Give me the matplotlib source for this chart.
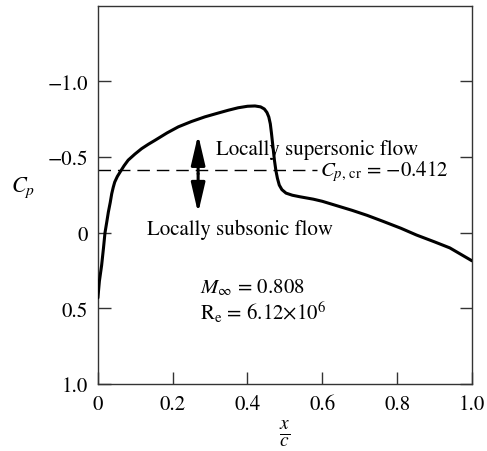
import matplotlib
matplotlib.use("Agg")
import matplotlib.pyplot as plt

plt.rcParams['font.family'] = ['STIXGeneral', 'DejaVu Serif']
plt.rcParams['mathtext.fontset'] = 'stix'

# pressure distribution (x/c, Cp)
x_c = [0.000, 0.004, 0.010, 0.015, 0.019, 0.024, 0.028, 0.033, 0.037, 0.041,
       0.045, 0.052, 0.059, 0.070, 0.081, 0.099, 0.117, 0.135, 0.152, 0.185,
       0.215, 0.250, 0.286, 0.320, 0.349, 0.375, 0.400, 0.420, 0.435, 0.445,
       0.452, 0.457, 0.461, 0.464, 0.468, 0.472, 0.476, 0.480, 0.485, 0.492,
       0.503, 0.520, 0.540, 0.576, 0.600, 0.640, 0.680, 0.720, 0.763, 0.810,
       0.852, 0.900, 0.941, 1.000]
cp = [0.43, 0.32, 0.215, 0.10, 0.0, -0.075, -0.137, -0.20, -0.258, -0.30,
      -0.335, -0.372, -0.40, -0.443, -0.48, -0.52, -0.556, -0.585, -0.61, -0.66,
      -0.70, -0.735, -0.766, -0.79, -0.81, -0.826, -0.836, -0.838, -0.832, -0.818,
      -0.795, -0.765, -0.72, -0.66, -0.57, -0.48, -0.41, -0.36, -0.315, -0.285,
      -0.262, -0.248, -0.238, -0.222, -0.208, -0.178, -0.148, -0.115, -0.075, -0.030,
      0.015, 0.060, 0.100, 0.185]

cp_cr = -0.412
x_ticks = [0, 0.2, 0.4, 0.6, 0.8, 1.0]
x_tick_labels = ["0", "0.2", "0.4", "0.6", "0.8", "1.0"]
y_ticks = [-1.0, -0.5, 0, 0.5, 1.0]
y_tick_labels = ["\u22121.0", "\u22120.5", "0", "0.5", "1.0"]

fig = plt.figure(figsize=(4.87, 4.52), dpi=100)
ax = fig.add_axes([0.201, 0.148, 0.768, 0.837])

ax.plot(x_c, cp, color="black", lw=2.2, solid_capstyle="round", zorder=3)

# critical pressure coefficient line
ax.plot([0, 0.585], [cp_cr, cp_cr], color="black", lw=1.0, dashes=(9, 5))
ax.text(0.595, cp_cr, r"$C_{p,\,\mathrm{cr}}$ = " + "\u22120.412", fontsize=15,
        va="center", ha="left")

# double arrow
arrow_x = 0.268
arrow_mid = -0.39
for tip in (-0.648, -0.13):
    ax.annotate("", xy=(arrow_x, tip), xytext=(arrow_x, arrow_mid),
                arrowprops=dict(arrowstyle="-|>,head_length=1.8,head_width=0.42",
                                color="black", lw=2.2, shrinkA=0, shrinkB=0))

ax.text(0.315, -0.555, "Locally supersonic flow", fontsize=15, va="center", ha="left")
ax.text(0.130, -0.025, "Locally subsonic flow", fontsize=15, va="center", ha="left")
ax.text(0.272, 0.355, r"$M_\infty$ = 0.808", fontsize=15, va="center", ha="left")
ax.text(0.272, 0.52, r"R$_\mathrm{e}$ = 6.12$\times$10$^6$", fontsize=15,
        va="center", ha="left")

ax.set_xlim(0, 1.0)
ax.set_ylim(1.0, -1.5)
ax.set_xticks(x_ticks)
ax.set_xticklabels(x_tick_labels)
ax.set_yticks(y_ticks)
ax.set_yticklabels(y_tick_labels)

ax.tick_params(axis="both", direction="in", length=9, width=1.0,
               color="#333333", labelsize=15, pad=7)
ax.tick_params(axis="y", right=True)
ax.tick_params(axis="x", top=False)
for s in ax.spines.values():
    s.set_color("#333333")
    s.set_linewidth(1.0)

ax.set_xlabel(r"$\frac{x}{c}$", fontsize=20, labelpad=3)
ax.set_ylabel(r"$C_p$", fontsize=16, rotation=0, va="center", ha="center")
ax.yaxis.set_label_coords(-0.2, 0.522)

fig.savefig("out.png", dpi=100)
